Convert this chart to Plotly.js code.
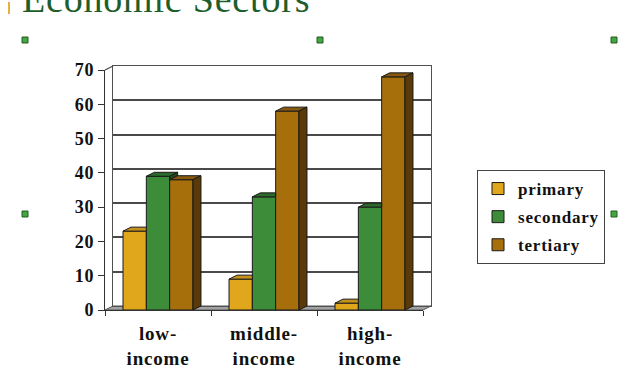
<!DOCTYPE html>
<html>
<head>
<meta charset="utf-8">
<script src="https://cdn.plot.ly/plotly-3.0.1.min.js"></script>
<style>
  html, body { margin: 0; padding: 0; background: #ffffff; }
  #chart { width: 625px; height: 375px; }
  text { letter-spacing: 0.8px; }
</style>
</head>
<body>
<div id="chart"></div>
<script>
// ---- data ----
const categories = ['low-income', 'middle-income', 'high-income'];
const tickLabels = ['low-<br>income', 'middle-<br>income', 'high-<br>income'];
const seriesNames = ['primary', 'secondary', 'tertiary'];
const primary = [23, 9, 2];
const secondary = [39, 33, 30];
const tertiary = [38, 58, 68];
const yTickVals = [0, 10, 20, 30, 40, 50, 60, 70];
const titleText = 'Economic Sectors';

// ---- styling ----
const frontColors = ['#E0A71C', '#3D8C3A', '#A76F0C'];
const topColors = ['#C4911A', '#2C6B2B', '#87580E'];
const sideColors = ['#8A6410', '#1D4B1C', '#5A3A08'];
const serif = 'Liberation Serif, Times New Roman, serif';

// plot geometry (pixels)
const W = 625, H = 375;
const L = 105, R = 431, T = 66, B = 310;
const pw = R - L, ph = B - T;
const frontRight = 423, frontTop = 70;
const DX = 8, DY = 4;
const fx = p => (p - L) / pw;
const fy = p => (B - p) / ph;

const bargap = 0.34;
const yMax = 70;
const catPx = (frontRight - L) / categories.length;
const d = DX / catPx;                 // depth offset in category units
const e = DY * yMax / (B - frontTop); // depth offset in value units

const series = [primary, secondary, tertiary];
const barW = (1 - bargap) / series.length;

const traces = [{
  type: 'scatter', x: [], y: [], xaxis: 'x', yaxis: 'y',
  showlegend: false, hoverinfo: 'skip'
}];
series.forEach((vals, t) => {
  traces.push({
    type: 'bar',
    name: seriesNames[t],
    x: categories,
    y: vals,
    xaxis: 'x2', yaxis: 'y2',
    legendgroup: seriesNames[t],
    marker: { color: frontColors[t], line: { color: '#1a1a1a', width: 1 } }
  });
});

const shapes = [];
const pathOf = pts => 'M' + pts.map(p => p[0] + ',' + p[1]).join(' L') + ' Z';

// 3D faces computed from the data
categories.forEach((c, ci) => {
  series.forEach((vals, t) => {
    const h = vals[ci];
    const lx = ci - (1 - bargap) / 2 + barW * t;
    const rx = lx + barW;
    const next = t < series.length - 1 ? series[t + 1][ci] : null;
    let top;
    if (next !== null && next > h) {
      top = [[lx, h], [rx, h], [rx, h + e], [lx + d, h + e]];
    } else {
      top = [[lx, h], [rx, h], [rx + d, h + e], [lx + d, h + e]];
    }
    shapes.push({ type: 'path', xref: 'x2', yref: 'y2', path: pathOf(top),
      fillcolor: topColors[t], line: { color: '#1a1a1a', width: 1 } });
    if (next === null) {
      shapes.push({ type: 'path', xref: 'x2', yref: 'y2',
        path: pathOf([[rx, h], [rx + d, h + e], [rx + d, e], [rx, 0]]),
        fillcolor: sideColors[t], line: { color: '#1a1a1a', width: 1 } });
    } else if (next < h) {
      shapes.push({ type: 'path', xref: 'x2', yref: 'y2',
        path: pathOf([[rx, h], [rx + d, h + e], [rx + d, next + e], [rx, next]]),
        fillcolor: sideColors[t], line: { color: '#1a1a1a', width: 1 } });
    }
  });
});

// floor
shapes.push({ type: 'path', xref: 'paper', yref: 'paper', layer: 'below',
  path: pathOf([[fx(L), fy(B)], [fx(frontRight), fy(B)], [fx(R), fy(B - DY)], [fx(L + DX), fy(B - DY)]]),
  fillcolor: '#A3A3A3', line: { color: '#555555', width: 1 } });
// left side wall top edge
shapes.push({ type: 'line', xref: 'paper', yref: 'paper',
  x0: fx(L), y0: fy(frontTop), x1: fx(L + DX), y1: fy(T),
  line: { color: '#444444', width: 1.2 } });

// slide decorations
shapes.push({ type: 'line', xref: 'paper', yref: 'paper',
  x0: fx(9), y0: fy(2), x1: fx(9), y1: fy(14),
  line: { color: '#E8B040', width: 2 } });
[[25, 40], [320, 40], [614, 40], [25, 214], [614, 214]].forEach(pt => {
  shapes.push({ type: 'rect', xref: 'paper', yref: 'paper',
    x0: fx(pt[0] - 3), x1: fx(pt[0] + 3), y0: fy(pt[1] + 3), y1: fy(pt[1] - 3),
    fillcolor: '#45A445', line: { color: '#1E5E1E', width: 1 } });
});

const layout = {
  width: W, height: H, autosize: false,
  margin: { l: L, r: W - R, t: T, b: H - B, pad: 0 },
  paper_bgcolor: '#ffffff',
  plot_bgcolor: 'rgba(0,0,0,0)',
  showlegend: true,
  bargap: bargap, bargroupgap: 0, barmode: 'group',
  // back wall
  xaxis: {
    domain: [DX / pw, 1], range: [0, 1], showgrid: false, zeroline: false,
    showticklabels: false, ticks: '', showline: true, mirror: true,
    linecolor: '#505050', linewidth: 1.2, anchor: 'y', fixedrange: true
  },
  yaxis: {
    domain: [DY / ph, 1], range: [0, yMax], tickvals: yTickVals,
    showgrid: true, gridcolor: '#4a4a4a', gridwidth: 2, zeroline: false,
    showticklabels: false, ticks: '', showline: true, mirror: true,
    linecolor: '#505050', linewidth: 1.2, anchor: 'x', fixedrange: true
  },
  // front axes
  xaxis2: {
    domain: [0, (frontRight - L) / pw], type: 'category', range: [-0.5, 2.5],
    tickmode: 'array', tickvals: categories, ticktext: tickLabels,
    tickson: 'boundaries', ticks: 'outside', ticklen: 5, tickcolor: '#333',
    showgrid: false, zeroline: false, showline: true, linecolor: '#333', linewidth: 1,
    anchor: 'y2', ticklabelstandoff: 6,
    tickfont: { family: serif, size: 19, color: '#111', weight: 'bold' }
  },
  yaxis2: {
    domain: [0, (B - frontTop) / ph], range: [0, yMax], tickvals: yTickVals,
    ticks: 'outside', ticklen: 6, tickcolor: '#333',
    showgrid: false, zeroline: false, showline: true, linecolor: '#333', linewidth: 1,
    anchor: 'x2',
    tickfont: { family: serif, size: 18, color: '#111', weight: 'bold' }
  },
  legend: {
    x: fx(477), y: fy(170), xanchor: 'left', yanchor: 'top',
    bgcolor: '#ffffff', bordercolor: '#444444', borderwidth: 1,
    traceorder: 'grouped', tracegroupgap: 3,
    font: { family: serif, size: 17, color: '#111', weight: 'bold' }
  },
  annotations: [{
    text: titleText, xref: 'paper', yref: 'paper',
    x: fx(20), y: fy(22), xanchor: 'left', yanchor: 'bottom',
    showarrow: false,
    font: { family: serif, size: 38, color: '#1D5E2C' }
  }],
  shapes: shapes
};

Plotly.newPlot('chart', traces, layout, { displayModeBar: false, staticPlot: true });
</script>
</body>
</html>
